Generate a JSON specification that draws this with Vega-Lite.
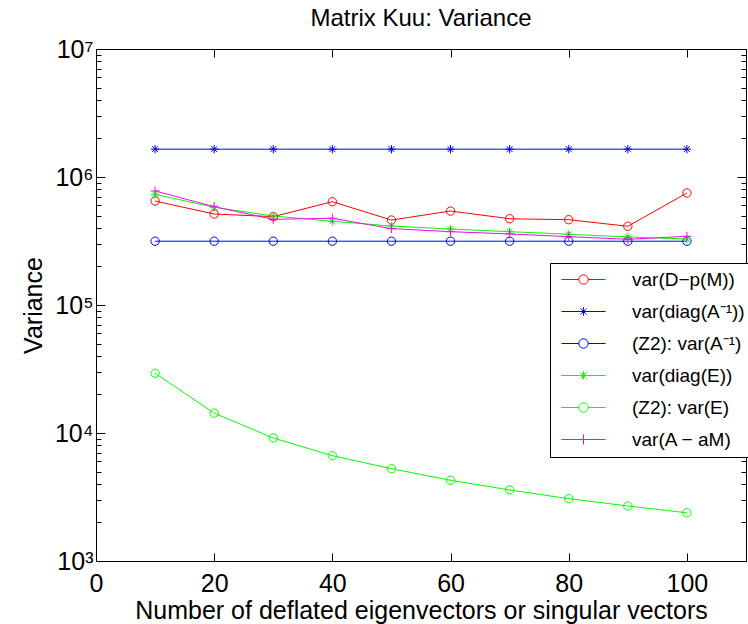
{
  "$schema": "https://vega.github.io/schema/vega-lite/v6.json",
  "width": 650,
  "height": 512,
  "autosize": "none",
  "padding": {"left": 96, "top": 49, "right": 2, "bottom": 63},
  "background": "white",
  "title": {"text": "Matrix Kuu: Variance", "font": "Liberation Sans", "fontSize": 24, "fontWeight": "normal", "color": "black", "offset": 6, "anchor": "middle"},
  "config": {
    "view": {"stroke": "black", "strokeWidth": 1},
    "axis": {"labelFont": "Liberation Sans", "titleFont": "Liberation Sans", "labelColor": "black", "titleColor": "black", "domainColor": "black", "tickColor": "black", "grid": false, "titleFontWeight": "normal", "labelOverlap": false, "labelFlush": false, "labelBound": false}
  },
  "data": {"values": [
    {"x": 10, "s": "var(D−p(M))", "v": 649000}, {"x": 20, "s": "var(D−p(M))", "v": 514000}, {"x": 30, "s": "var(D−p(M))", "v": 490000}, {"x": 40, "s": "var(D−p(M))", "v": 641000}, {"x": 50, "s": "var(D−p(M))", "v": 461000}, {"x": 60, "s": "var(D−p(M))", "v": 542000}, {"x": 70, "s": "var(D−p(M))", "v": 472000}, {"x": 80, "s": "var(D−p(M))", "v": 464000}, {"x": 90, "s": "var(D−p(M))", "v": 412000}, {"x": 100, "s": "var(D−p(M))", "v": 750000},
    {"x": 10, "s": "var(diag(A⁻¹))", "v": 1650000}, {"x": 20, "s": "var(diag(A⁻¹))", "v": 1650000}, {"x": 30, "s": "var(diag(A⁻¹))", "v": 1650000}, {"x": 40, "s": "var(diag(A⁻¹))", "v": 1650000}, {"x": 50, "s": "var(diag(A⁻¹))", "v": 1650000}, {"x": 60, "s": "var(diag(A⁻¹))", "v": 1650000}, {"x": 70, "s": "var(diag(A⁻¹))", "v": 1650000}, {"x": 80, "s": "var(diag(A⁻¹))", "v": 1650000}, {"x": 90, "s": "var(diag(A⁻¹))", "v": 1650000}, {"x": 100, "s": "var(diag(A⁻¹))", "v": 1650000},
    {"x": 10, "s": "(Z2): var(A⁻¹)", "v": 315000}, {"x": 20, "s": "(Z2): var(A⁻¹)", "v": 315000}, {"x": 30, "s": "(Z2): var(A⁻¹)", "v": 315000}, {"x": 40, "s": "(Z2): var(A⁻¹)", "v": 315000}, {"x": 50, "s": "(Z2): var(A⁻¹)", "v": 315000}, {"x": 60, "s": "(Z2): var(A⁻¹)", "v": 315000}, {"x": 70, "s": "(Z2): var(A⁻¹)", "v": 315000}, {"x": 80, "s": "(Z2): var(A⁻¹)", "v": 315000}, {"x": 90, "s": "(Z2): var(A⁻¹)", "v": 315000}, {"x": 100, "s": "(Z2): var(A⁻¹)", "v": 315000},
    {"x": 10, "s": "var(diag(E))", "v": 732000}, {"x": 20, "s": "var(diag(E))", "v": 580000}, {"x": 30, "s": "var(diag(E))", "v": 496000}, {"x": 40, "s": "var(diag(E))", "v": 451000}, {"x": 50, "s": "var(diag(E))", "v": 414000}, {"x": 60, "s": "var(diag(E))", "v": 392000}, {"x": 70, "s": "var(diag(E))", "v": 374000}, {"x": 80, "s": "var(diag(E))", "v": 357000}, {"x": 90, "s": "var(diag(E))", "v": 340000}, {"x": 100, "s": "var(diag(E))", "v": 328000},
    {"x": 10, "s": "(Z2): var(E)", "v": 29300}, {"x": 20, "s": "(Z2): var(E)", "v": 14300}, {"x": 30, "s": "(Z2): var(E)", "v": 9140}, {"x": 40, "s": "(Z2): var(E)", "v": 6650}, {"x": 50, "s": "(Z2): var(E)", "v": 5260}, {"x": 60, "s": "(Z2): var(E)", "v": 4270}, {"x": 70, "s": "(Z2): var(E)", "v": 3590}, {"x": 80, "s": "(Z2): var(E)", "v": 3070}, {"x": 90, "s": "(Z2): var(E)", "v": 2690}, {"x": 100, "s": "(Z2): var(E)", "v": 2380},
    {"x": 10, "s": "var(A − aM)", "v": 778000}, {"x": 20, "s": "var(A − aM)", "v": 586000}, {"x": 30, "s": "var(A − aM)", "v": 467000}, {"x": 40, "s": "var(A − aM)", "v": 476000}, {"x": 50, "s": "var(A − aM)", "v": 395000}, {"x": 60, "s": "var(A − aM)", "v": 374000}, {"x": 70, "s": "var(A − aM)", "v": 359000}, {"x": 80, "s": "var(A − aM)", "v": 342000}, {"x": 90, "s": "var(A − aM)", "v": 326000}, {"x": 100, "s": "var(A − aM)", "v": 344000}
  ]},
  "layer": [
    {
      "transform": [{"filter": "datum.x < 0"}],
      "mark": {"type": "point", "filled": false, "strokeWidth": 1, "opacity": 1},
      "encoding": {
        "x": {"field": "x", "type": "quantitative", "scale": {"domain": [0, 110], "nice": false, "zero": false},
              "axis": {"orient": "bottom", "values": [0, 20, 40, 60, 80, 100], "tickSize": -8, "labelFontSize": 25, "labelPadding": 18, "title": "Number of deflated eigenvectors or singular vectors", "titleFontSize": 25, "titlePadding": 2}},
        "y": {"field": "v", "type": "quantitative", "scale": {"type": "log", "domain": [1000, 10000000], "nice": false},
              "axis": {"orient": "left", "values": [1000,2000,3000,4000,5000,6000,7000,8000,9000,10000,20000,30000,40000,50000,60000,70000,80000,90000,100000,200000,300000,400000,500000,600000,700000,800000,900000,1000000,2000000,3000000,4000000,5000000,6000000,7000000,8000000,9000000,10000000],
                       "tickSize": {"condition": {"test": "indexof([1000,10000,100000,1000000,10000000], datum.value) >= 0", "value": -9}, "value": -5},
                       "labelExpr": "datum.value == 1000 ? '10³' : datum.value == 10000 ? '10⁴' : datum.value == 100000 ? '10⁵' : datum.value == 1000000 ? '10⁶' : datum.value == 10000000 ? '10⁷' : ''",
                       "labelFontSize": 25, "labelPadding": 12, "title": "Variance", "titleFontSize": 25, "titlePadding": 8}},
        "color": {"field": "s", "type": "nominal", "sort": null,
                  "scale": {"domain": ["var(D−p(M))", "var(diag(A⁻¹))", "(Z2): var(A⁻¹)", "var(diag(E))", "(Z2): var(E)", "var(A − aM)"],
                            "range": ["#ff0000", "#0000ff", "#0000ff", "#00ff00", "#00ff00", "#ff00ff"]},
                  "legend": {"orient": "none", "legendX": 454, "legendY": 214, "title": null, "strokeColor": "black", "fillColor": "white", "padding": 7,
                             "labelFont": "Liberation Sans", "labelFontSize": 19, "labelColor": "black", "symbolSize": 100, "symbolStrokeWidth": 1, "symbolFillColor": "transparent", "symbolOffset": 17, "labelOffset": 39, "rowPadding": 12, "labelLimit": 400}},
        "shape": {"field": "s", "type": "nominal", "sort": null,
                  "scale": {"domain": ["var(D−p(M))", "var(diag(A⁻¹))", "(Z2): var(A⁻¹)", "var(diag(E))", "(Z2): var(E)", "var(A − aM)"],
                            "range": ["M-4.4,0H-0.94M0.94,0H4.4M-0.94,0A0.94,0.94,0,1,0,0.94,0A0.94,0.94,0,1,0,-0.94,0",
                                      "M-4.4,0H4.4M0,-0.84V0.84M-0.6,-0.6L0.6,0.6M-0.6,0.6L0.6,-0.6",
                                      "M-4.4,0H-0.94M0.94,0H4.4M-0.94,0A0.94,0.94,0,1,0,0.94,0A0.94,0.94,0,1,0,-0.94,0",
                                      "M-4.4,0H4.4M0,-0.84V0.84M-0.6,-0.6L0.6,0.6M-0.6,0.6L0.6,-0.6",
                                      "M-4.4,0H-0.94M0.94,0H4.4M-0.94,0A0.94,0.94,0,1,0,0.94,0A0.94,0.94,0,1,0,-0.94,0",
                                      "M-4.4,0H4.4M0,-1V1"]},
                  "legend": {"orient": "none", "legendX": 454, "legendY": 214, "title": null, "strokeColor": "black", "fillColor": "white", "padding": 7,
                             "labelFont": "Liberation Sans", "labelFontSize": 19, "labelColor": "black", "symbolSize": 100, "symbolStrokeWidth": 1, "symbolFillColor": "transparent", "symbolOffset": 17, "labelOffset": 39, "rowPadding": 12, "labelLimit": 400}}
      }
    },
    {
      "mark": {"type": "line", "strokeWidth": 1, "clip": true},
      "encoding": {
        "x": {"field": "x", "type": "quantitative", "axis": null},
        "y": {"field": "v", "type": "quantitative", "axis": null},
        "color": {"field": "s", "type": "nominal", "sort": null, "legend": null}
      }
    },
    {
      "transform": [{"filter": "datum.s == 'var(D−p(M))' || datum.s == '(Z2): var(A⁻¹)' || datum.s == '(Z2): var(E)'"}],
      "mark": {"type": "point", "shape": "circle", "filled": false, "strokeWidth": 1, "size": 70, "opacity": 1, "clip": true},
      "encoding": {
        "x": {"field": "x", "type": "quantitative", "axis": {"orient": "top", "values": [20, 40, 60, 80, 100], "tickSize": -8, "labels": false, "title": null}},
        "y": {"field": "v", "type": "quantitative",
              "axis": {"orient": "right", "values": [1000,2000,3000,4000,5000,6000,7000,8000,9000,10000,20000,30000,40000,50000,60000,70000,80000,90000,100000,200000,300000,400000,500000,600000,700000,800000,900000,1000000,2000000,3000000,4000000,5000000,6000000,7000000,8000000,9000000,10000000],
                       "tickSize": {"condition": {"test": "indexof([1000,10000,100000,1000000,10000000], datum.value) >= 0", "value": -9}, "value": -5},
                       "labels": false, "title": null}},
        "color": {"field": "s", "type": "nominal", "sort": null, "legend": null}
      }
    },
    {
      "transform": [{"filter": "datum.s == 'var(diag(A⁻¹))' || datum.s == 'var(diag(E))'"}],
      "mark": {"type": "point", "shape": "M0,-1V1M-1,0H1M-0.7,-0.7L0.7,0.7M-0.7,0.7L0.7,-0.7", "filled": false, "strokeWidth": 1, "size": 70, "opacity": 1, "clip": true},
      "encoding": {
        "x": {"field": "x", "type": "quantitative", "axis": null},
        "y": {"field": "v", "type": "quantitative", "axis": null},
        "color": {"field": "s", "type": "nominal", "sort": null, "legend": null}
      }
    },
    {
      "transform": [{"filter": "datum.s == 'var(A − aM)'"}],
      "mark": {"type": "point", "shape": "M0,-1.1V1.1M-1.1,0H1.1", "filled": false, "strokeWidth": 1, "size": 70, "opacity": 1, "clip": true},
      "encoding": {
        "x": {"field": "x", "type": "quantitative", "axis": null},
        "y": {"field": "v", "type": "quantitative", "axis": null},
        "color": {"field": "s", "type": "nominal", "sort": null, "legend": null}
      }
    }
  ]
}
